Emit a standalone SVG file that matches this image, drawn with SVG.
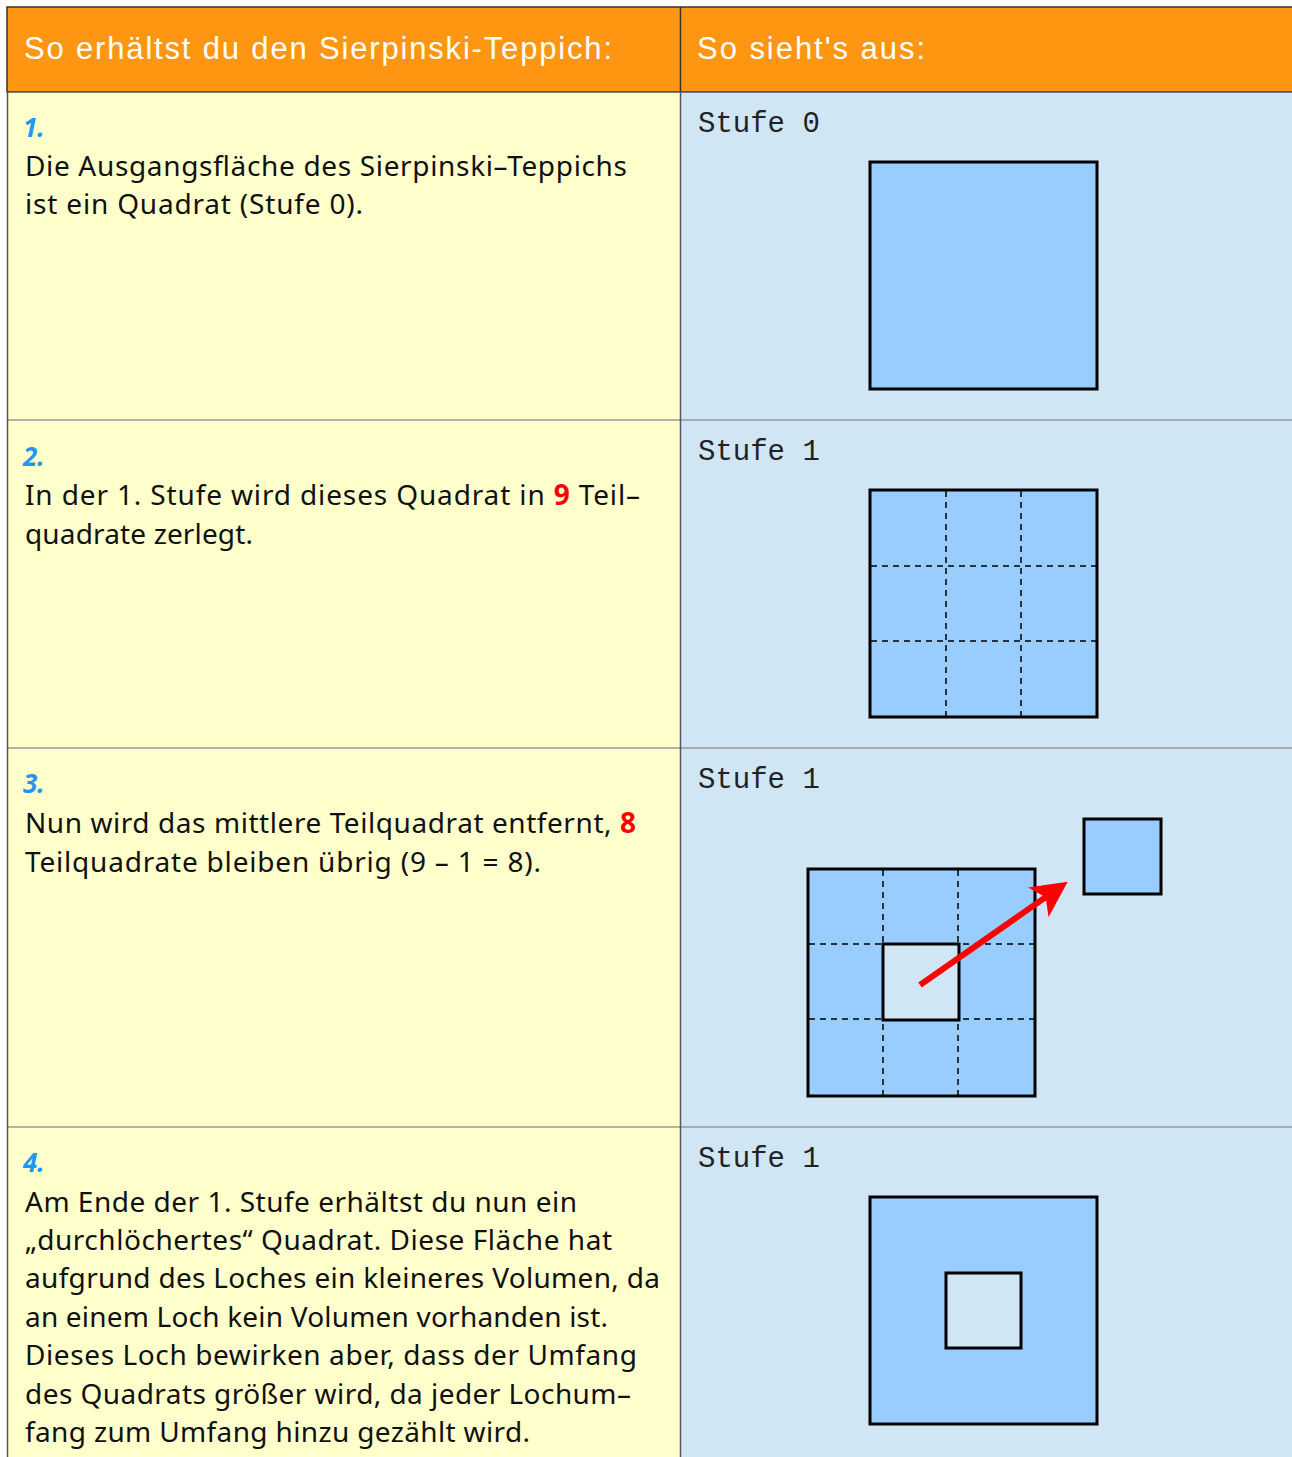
<svg xmlns="http://www.w3.org/2000/svg" width="1292" height="1457" viewBox="0 0 1292 1457">
<style>
.hdr{font-family:"Liberation Sans",sans-serif;font-size:31px;fill:#fff}
.num{font-family:"Noto Sans",sans-serif;font-size:26px;font-weight:bold;font-style:italic;fill:#2196F3}
.txt{font-family:"Noto Sans",sans-serif;font-size:28px;fill:#111}
.red{fill:#FF0000;font-weight:bold}
.lbl{font-family:"Liberation Mono",monospace;font-size:29px;fill:#222}
.sq{fill:#99CCFF;stroke:#000;stroke-width:3}
.hole{fill:#D0E6F4;stroke:#000;stroke-width:3}
.dash{stroke:#000;stroke-width:1.5;stroke-dasharray:6,5;fill:none}
.sep{stroke:#999;stroke-width:1.5}
</style>
<defs>
<marker id="ah" markerWidth="6" markerHeight="6" refX="3" refY="3" orient="auto" markerUnits="strokeWidth"><path d="M0,0 L6,3 L0,6 L1.5,3 Z" fill="#FF0000"/></marker>
</defs>
<rect width="1292" height="1457" fill="#fff"/>
<g id="header">
<rect x="7" y="7" width="1290" height="85" fill="#FF9612" stroke="#333" stroke-width="1.5"/>
<line x1="680.5" y1="7" x2="680.5" y2="92" stroke="#333" stroke-width="1.5"/>
<text class="hdr" x="24" y="59" textLength="588" lengthAdjust="spacing">So erhältst du den Sierpinski-Teppich:</text>
<text class="hdr" x="697" y="59" textLength="228" lengthAdjust="spacing">So sieht's aus:</text>
</g>
<g id="row1">
<rect x="7" y="92" width="673" height="328" fill="#FFFFCC"/>
<rect x="680" y="92" width="612" height="328" fill="#D0E6F4"/>
<text class="num" x="23" y="137">1.</text>
<text class="txt" x="25" y="176" textLength="602" lengthAdjust="spacing">Die Ausgangsfläche des Sierpinski–Teppichs</text>
<text class="txt" x="25" y="214" textLength="338" lengthAdjust="spacing">ist ein Quadrat (Stufe 0).</text>
<text class="lbl" x="698" y="132">Stufe 0</text>
<rect class="sq" x="870" y="162" width="227" height="227"/>
</g>
<g id="row2">
<rect x="7" y="420" width="673" height="328" fill="#FFFFCC"/>
<rect x="680" y="420" width="612" height="328" fill="#D0E6F4"/>
<text class="num" x="23" y="466">2.</text>
<text class="txt" x="25" y="505" textLength="615" lengthAdjust="spacing">In der 1. Stufe wird dieses Quadrat in <tspan class="red">9</tspan> Teil–</text>
<text class="txt" x="25" y="544" textLength="228" lengthAdjust="spacing">quadrate zerlegt.</text>
<text class="lbl" x="698" y="460">Stufe 1</text>
<rect class="sq" x="870" y="490" width="227" height="227"/>
<path class="dash" d="M946,491V716M1021,491V716M871,566H1096M871,641H1096"/>
</g>
<g id="row3">
<rect x="7" y="748" width="673" height="379" fill="#FFFFCC"/>
<rect x="680" y="748" width="612" height="379" fill="#D0E6F4"/>
<text class="num" x="23" y="793">3.</text>
<text class="txt" x="25" y="833" textLength="611" lengthAdjust="spacing">Nun wird das mittlere Teilquadrat entfernt, <tspan class="red">8</tspan></text>
<text class="txt" x="25" y="872" textLength="516" lengthAdjust="spacing">Teilquadrate bleiben übrig (9 – 1 = 8).</text>
<text class="lbl" x="698" y="788">Stufe 1</text>
<rect class="sq" x="808" y="869" width="227" height="227"/>
<path class="dash" d="M883,870V1095M958,870V1095M809,944H1034M809,1019H1034"/>
<rect class="hole" x="883" y="944" width="76" height="76"/>
<rect class="sq" x="1084" y="819" width="77" height="75"/>
</g>
<g id="connectors">
<line x1="920" y1="985" x2="1053" y2="892" stroke="#FF0000" stroke-width="6" marker-end="url(#ah)"/>
</g>
<g id="row4">
<rect x="7" y="1127" width="673" height="330" fill="#FFFFCC"/>
<rect x="680" y="1127" width="612" height="330" fill="#D0E6F4"/>
<text class="num" x="23" y="1172">4.</text>
<text class="txt" x="25" y="1212" textLength="552" lengthAdjust="spacing">Am Ende der 1. Stufe erhältst du nun ein</text>
<text class="txt" x="25" y="1250" textLength="587" lengthAdjust="spacing">„durchlöchertes“ Quadrat. Diese Fläche hat</text>
<text class="txt" x="25" y="1288" textLength="635" lengthAdjust="spacing">aufgrund des Loches ein kleineres Volumen, da</text>
<text class="txt" x="25" y="1327" textLength="583" lengthAdjust="spacing">an einem Loch kein Volumen vorhanden ist.</text>
<text class="txt" x="25" y="1365" textLength="612" lengthAdjust="spacing">Dieses Loch bewirken aber, dass der Umfang</text>
<text class="txt" x="25" y="1404" textLength="606" lengthAdjust="spacing">des Quadrats größer wird, da jeder Lochum–</text>
<text class="txt" x="25" y="1442" textLength="505" lengthAdjust="spacing">fang zum Umfang hinzu gezählt wird.</text>
<text class="lbl" x="698" y="1167">Stufe 1</text>
<rect class="sq" x="870" y="1197" width="227" height="227"/>
<rect class="hole" x="946" y="1273" width="75" height="75"/>
</g>
<g id="grid">
<line class="sep" x1="7" y1="420" x2="1292" y2="420"/>
<line class="sep" x1="7" y1="748" x2="1292" y2="748"/>
<line class="sep" x1="7" y1="1127" x2="1292" y2="1127"/>
<line x1="680.5" y1="92" x2="680.5" y2="1457" stroke="#555" stroke-width="1.5"/>
<line x1="7.5" y1="92" x2="7.5" y2="1457" stroke="#555" stroke-width="1.5"/>
<line x1="7" y1="92" x2="1292" y2="92" stroke="#555" stroke-width="1.5"/>
</g>
</svg>
